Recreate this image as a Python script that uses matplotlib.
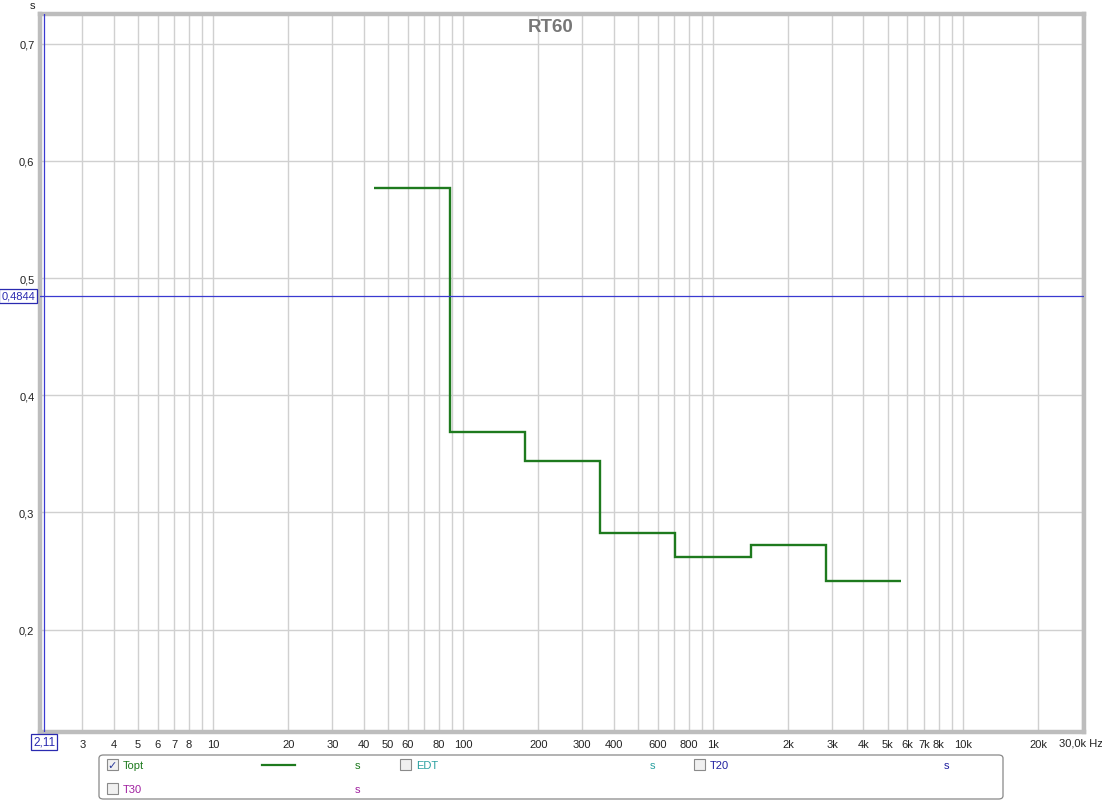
# RT60 octave-band plot in the style of an REW measurement window.

import numpy as np
import matplotlib
matplotlib.use("Agg")
import matplotlib.pyplot as plt
from matplotlib.patches import FancyBboxPatch, Rectangle

plt.rcParams["font.family"] = ["Liberation Sans", "DejaVu Sans"]

# Octave band centres (Hz) and Topt values (s)
BAND_CENTERS = [62.5, 125, 250, 500, 1000, 2000, 4000]
TOPT = [0.577, 0.369, 0.344, 0.282, 0.262, 0.272, 0.241]

# Axis ticks / labels
X_GRID = [3, 4, 5, 6, 7, 8, 9, 10, 20, 30, 40, 50, 60, 70, 80, 90, 100,
          200, 300, 400, 500, 600, 700, 800, 900, 1000, 2000, 3000, 4000,
          5000, 6000, 7000, 8000, 9000, 10000, 20000, 30000]
X_LABELED = [3, 4, 5, 6, 7, 8, 10, 20, 30, 40, 50, 60, 80, 100, 200, 300,
             400, 600, 800, 1000, 2000, 3000, 4000, 5000, 6000, 7000, 8000,
             10000, 20000]
X_LABELS = ["3", "4", "5", "6", "7", "8", "10", "20", "30", "40", "50", "60",
            "80", "100", "200", "300", "400", "600", "800", "1k", "2k", "3k",
            "4k", "5k", "6k", "7k", "8k", "10k", "20k"]
Y_TICKS = [0.2, 0.3, 0.4, 0.5, 0.6, 0.7]

CURSOR_X = 2.11
CURSOR_Y = 0.4844

W, H = 1102, 803
fig = plt.figure(figsize=(W / 100, H / 100), dpi=100)

# plot area in pixels
L, R, T, B = 40, 1084, 15, 733
ax = fig.add_axes([L / W, 1 - B / H, (R - L) / W, (B - T) / H])
ax.set_xscale("log")
ax.set_xlim(2.03, 30500)
ax.set_ylim(0.1125, 0.7255)

for x in X_GRID:
    ax.axvline(x, color="#d0d0d0", lw=1.0, zorder=0)
for y in Y_TICKS:
    ax.axhline(y, color="#d0d0d0", lw=1.0, zorder=0)

# octave band edges from the centres
centers = np.array(BAND_CENTERS)
edges = np.concatenate([centers / np.sqrt(2), [centers[-1] * np.sqrt(2)]])
ax.stairs(TOPT, edges, baseline=None, color="#1e7a1e", lw=1.7, zorder=3)

# cursors
ax.axvline(CURSOR_X, color="#3a3ad0", lw=0.9, zorder=4)
ax.axhline(CURSOR_Y, color="#3a3ad0", lw=0.9, zorder=4)

ax.set_xticks(X_LABELED)
ax.set_xticklabels(X_LABELS)
ax.minorticks_off()
ax.set_yticks(Y_TICKS)
ax.set_yticklabels([f"{v:.1f}".replace(".", ",") for v in Y_TICKS])
ax.tick_params(length=0, labelsize=8, colors="#222222", pad=5)
ax.tick_params(axis="y", pad=4)

for s in ax.spines.values():
    s.set_color("#bdbdbd")
    s.set_linewidth(3.2)

fig.text(551 / W, 1 - 27 / H, "RT60", ha="center", va="center",
         fontsize=13.5, fontweight="bold", color="#777777")

# extra axis texts
fig.text(32 / W, 1 - 6 / H, "s", fontsize=8, ha="center", va="center",
         color="#222222")
fig.text(1059 / W, 1 - 744 / H, "30,0k Hz", fontsize=8, ha="left",
         va="center", color="#222222")
fig.text(44 / W, 1 - 743 / H, "2,11", fontsize=8.5, ha="center", va="center",
         color="#2a2ab0",
         bbox=dict(boxstyle="square,pad=0.15", fc="white", ec="#2a2ab0", lw=0.9))
fig.text(18 / W, 1 - 297 / H, "0,4844", fontsize=8, ha="center",
         va="center", color="#2a2ab0",
         bbox=dict(boxstyle="square,pad=0.15", fc="white", ec="#2a2ab0", lw=0.9))

# legend panel
fig.patches.append(FancyBboxPatch((99 / W, 1 - 800 / H), 904 / W, 44 / H,
                                  boxstyle="round,pad=0,rounding_size=0.004",
                                  transform=fig.transFigure, fc="white",
                                  ec="#888888", lw=0.9))

LEGEND = [
    ("Topt", "#1e7a1e", 108, 766, True),
    ("EDT", "#2aa0a0", 401, 766, False),
    ("T20", "#2020a0", 695, 766, False),
    ("T30", "#a020a0", 108, 790, False),
]
UNIT_X = {108: 357, 401: 652, 695: 946}
for name, col, x0, y0, checked in LEGEND:
    fig.patches.append(Rectangle(((x0 - 1) / W, 1 - (y0 + 5) / H), 11 / W, 11 / H,
                                 transform=fig.transFigure, fc="#f0f0f0",
                                 ec="#8a8a8a", lw=0.8))
    if checked:
        fig.text((x0 + 4.5) / W, 1 - (y0 + 0.5) / H, "\u2713", fontsize=8,
                 ha="center", va="center", color="#2a3a9a",
                 family=["DejaVu Sans"], fontweight="bold")
    fig.text((x0 + 15) / W, 1 - y0 / H, name, fontsize=8, ha="left",
             va="center", color=col)
    fig.text(UNIT_X[x0] / W, 1 - y0 / H, "s", fontsize=8, ha="center",
             va="center", color=col)

fig.add_artist(plt.Line2D([262 / W, 295 / W], [1 - 766 / H, 1 - 766 / H],
                          color="#1e7a1e", lw=1.6, transform=fig.transFigure))

fig.savefig("out.png", dpi=100, facecolor="white")
